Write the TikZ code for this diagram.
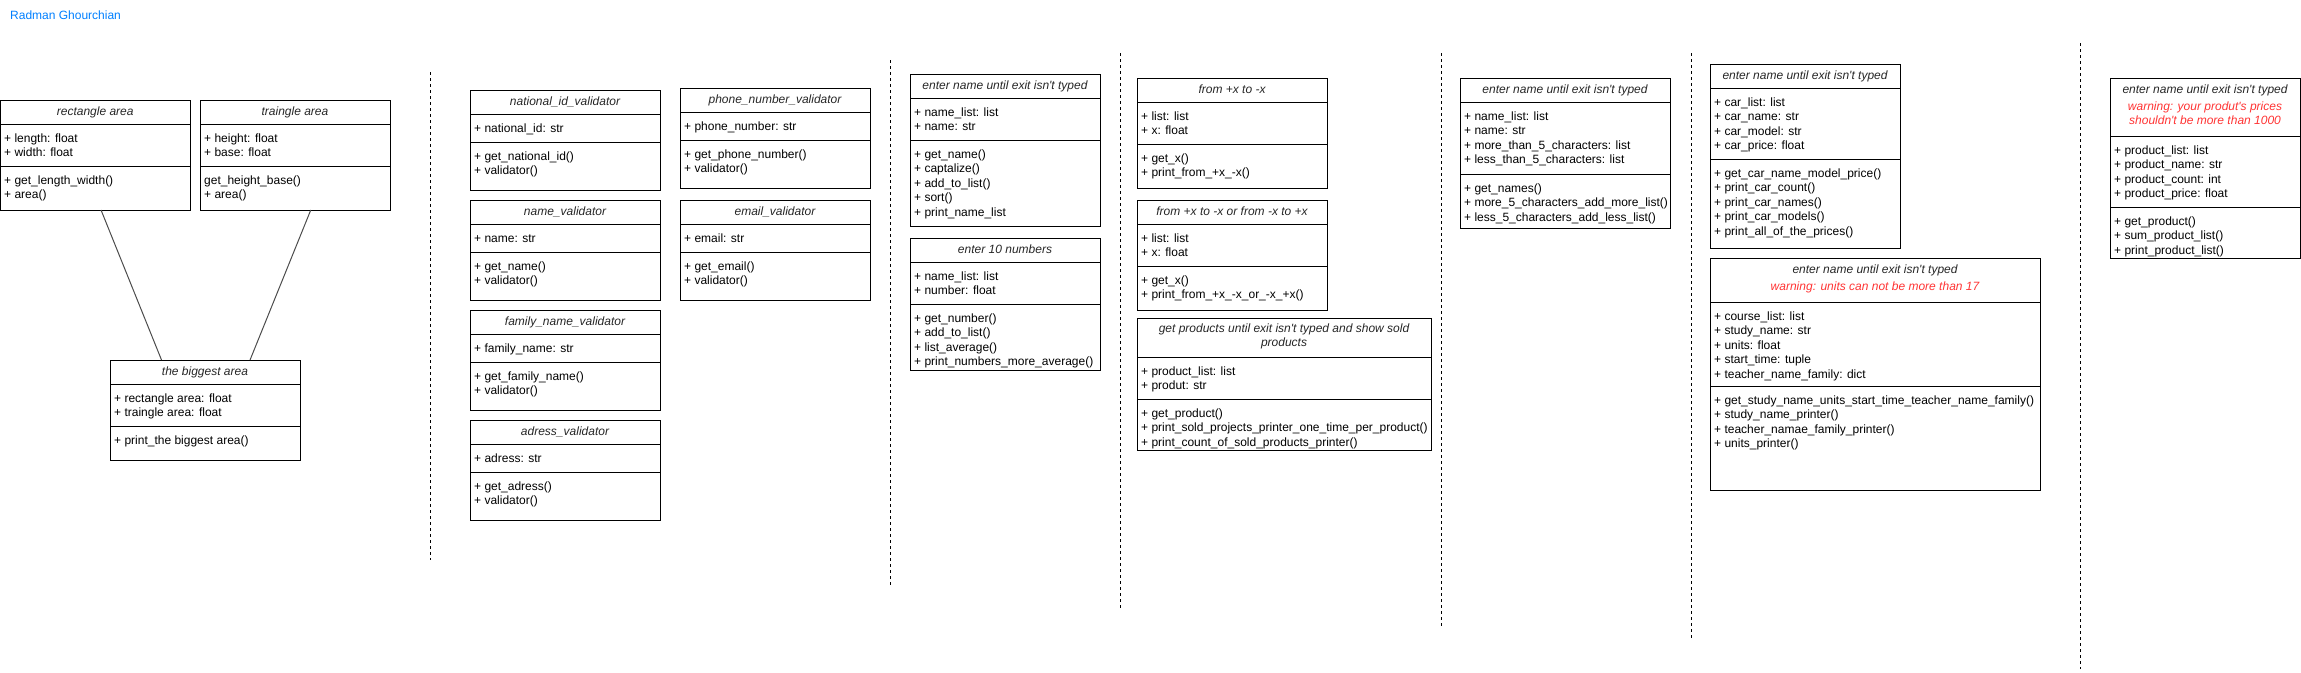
\documentclass[tikz,border=0pt]{standalone}
\usepackage{fontspec}
\setmainfont{Liberation Sans}
\definecolor{titleblue}{HTML}{007FFF}
\definecolor{warnred}{HTML}{FF3333}
\newcommand\ap{\textquotesingle}
\newcommand\ucls[7]{%
  \node[clsbox, minimum width={(#4)-(#2)}, minimum height={(#5)-(#3)}, anchor=north west] (#1) at (#2,#3) {};
  \draw[divline] (#2,#6) -- (#4,#6);
  \draw[divline] (#2,#7) -- (#4,#7);
}
\newcommand\uttl[5]{\node[ttl] (#1) at ({((#2)+(#3))/2},#4) {#5};}
\newcommand\uwarn[5]{\node[ttl,text=warnred] (#1) at ({((#2)+(#3))/2},#4) {#5};}
\newcommand\ufld[4]{\node[fld] (#1) at ({(#2)+4},{(#3)+8}) {\strut #4};}
\begin{document}
\begin{tikzpicture}[x=1pt,y=-1pt,
  clsbox/.style={draw=black, line width=1pt, inner sep=0pt, outer sep=0pt},
  divline/.style={line width=1pt},
  ttl/.style={font=\fontsize{12}{14.5}\selectfont\itshape, anchor=base, inner sep=0pt, text=black!85},
  fld/.style={font=\fontsize{12}{14.5}\selectfont, anchor=north west, align=left, inner sep=0pt},
  sepline/.style={line width=1pt, dash pattern=on 3pt off 3pt},
  link/.style={line width=1pt, draw=black!70}]
\useasboundingbox (0,0) rectangle (2301,672);

\node[font=\fontsize{12}{14.5}\selectfont, text=titleblue, anchor=base west, inner sep=0pt] (author) at (10,19.3) {Radman Ghourchian};

% column 1
\ucls{rect}{0.5}{100}{190}{210}{124}{166}
\uttl{rectt}{0.5}{190}{115}{rectangle area}
\ufld{recta}{0}{124}{+ length: float\\+ width: float}
\ufld{rectm}{0}{166}{+ get\_length\_width()\\+ area()}

\ucls{tri}{200}{100}{390}{210}{124}{166}
\uttl{trit}{200}{390}{115}{traingle area}
\ufld{tria}{200}{124}{+ height: float\\+ base: float}
\ufld{trim}{200}{166}{get\_height\_base()\\+ area()}

\ucls{big}{110}{360}{300}{460}{384}{426}
\uttl{bigt}{110}{300}{375}{the biggest area}
\ufld{biga}{110}{384}{+ rectangle area: float\\+ traingle area: float}
\ufld{bigm}{110}{426}{+ print\_the biggest area()}

\draw[link] (rect.-84.8) -- (big.131.99);
\draw[link] (tri.-74.74) -- (big.48.01);

% column 2
\ucls{nid}{470}{90}{660}{190}{114}{142}
\uttl{nidt}{470}{660}{105}{national\_id\_validator}
\ufld{nida}{470}{114}{+ national\_id: str}
\ufld{nidm}{470}{142}{+ get\_national\_id()\\+ validator()}

\ucls{namev}{470}{200}{660}{300}{224}{252}
\uttl{namevt}{470}{660}{215}{name\_validator}
\ufld{nameva}{470}{224}{+ name: str}
\ufld{namevm}{470}{252}{+ get\_name()\\+ validator()}

\ucls{famv}{470}{310}{660}{410}{334}{362}
\uttl{famvt}{470}{660}{325}{family\_name\_validator}
\ufld{famva}{470}{334}{+ family\_name: str}
\ufld{famvm}{470}{362}{+ get\_family\_name()\\+ validator()}

\ucls{adrv}{470}{420}{660}{520}{444}{472}
\uttl{adrvt}{470}{660}{435}{adress\_validator}
\ufld{adrva}{470}{444}{+ adress: str}
\ufld{adrvm}{470}{472}{+ get\_adress()\\+ validator()}

\ucls{phone}{680}{88}{870}{188}{112}{140}
\uttl{phonet}{680}{870}{103}{phone\_number\_validator}
\ufld{phonea}{680}{112}{+ phone\_number: str}
\ufld{phonem}{680}{140}{+ get\_phone\_number()\\+ validator()}

\ucls{email}{680}{200}{870}{300}{224}{252}
\uttl{emailt}{680}{870}{215}{email\_validator}
\ufld{emaila}{680}{224}{+ email: str}
\ufld{emailm}{680}{252}{+ get\_email()\\+ validator()}

% column 3
\ucls{names}{910}{74}{1100}{226}{98}{140}
\uttl{namest}{910}{1100}{89}{enter name until exit isn\ap t typed}
\ufld{namesa}{910}{98}{+ name\_list: list\\+ name: str}
\ufld{namesm}{910}{140}{+ get\_name()\\+ captalize()\\+ add\_to\_list()\\+ sort()\\+ print\_name\_list}

\ucls{nums}{910}{238}{1100}{370}{262}{304}
\uttl{numst}{910}{1100}{253}{enter 10 numbers}
\ufld{numsa}{910}{262}{+ name\_list: list\\+ number: float}
\ufld{numsm}{910}{304}{+ get\_number()\\+ add\_to\_list()\\+ list\_average()\\+ print\_numbers\_more\_average()}

% column 4
\ucls{fx}{1137}{78}{1327}{188}{102}{144}
\uttl{fxt}{1137}{1327}{93}{from +x to -x}
\ufld{fxa}{1137}{102}{+ list: list\\+ x: float}
\ufld{fxm}{1137}{144}{+ get\_x()\\+ print\_from\_+x\_-x()}

\ucls{fxx}{1137}{200}{1327}{310}{224}{266}
\uttl{fxxt}{1137}{1327}{215}{from +x to -x or from -x to +x}
\ufld{fxxa}{1137}{224}{+ list: list\\+ x: float}
\ufld{fxxm}{1137}{266}{+ get\_x()\\+ print\_from\_+x\_-x\_or\_-x\_+x()}

\ucls{prod}{1137}{318}{1431}{450}{357}{399}
\uttl{prodt}{1137}{1431}{332.7}{get products until exit isn\ap t typed and show sold}
\uttl{prodt2}{1137}{1431}{346.7}{products}
\ufld{proda}{1137}{357}{+ product\_list: list\\+ produt: str}
\ufld{prodm}{1137}{399}{+ get\_product()\\+ print\_sold\_projects\_printer\_one\_time\_per\_product()\\+ print\_count\_of\_sold\_products\_printer()}

% column 5
\ucls{five}{1460}{78}{1670}{228}{102}{174}
\uttl{fivet}{1460}{1670}{93}{enter name until exit isn\ap t typed}
\ufld{fivea}{1460}{102}{+ name\_list: list\\+ name: str\\+ more\_than\_5\_characters: list\\+ less\_than\_5\_characters: list}
\ufld{fivem}{1460}{174}{+ get\_names()\\+ more\_5\_characters\_add\_more\_list()\\+ less\_5\_characters\_add\_less\_list()}

% column 6
\ucls{car}{1710}{64}{1900}{248}{88}{159}
\uttl{cart}{1710}{1900}{79}{enter name until exit isn\ap t typed}
\ufld{cara}{1710}{88}{+ car\_list: list\\+ car\_name: str\\+ car\_model: str\\+ car\_price: float}
\ufld{carm}{1710}{159}{+ get\_car\_name\_model\_price()\\+ print\_car\_count()\\+ print\_car\_names()\\+ print\_car\_models()\\+ print\_all\_of\_the\_prices()}

\ucls{units}{1710}{258}{2040}{490}{302}{386}
\uttl{unitst}{1710}{2040}{273}{enter name until exit isn\ap t typed}
\uwarn{unitsw}{1710}{2040}{290.7}{warning: units can not be more than 17}
\ufld{unitsa}{1710}{302}{+ course\_list: list\\+ study\_name: str\\+ units: float\\+ start\_time: tuple\\+ teacher\_name\_family: dict}
\ufld{unitsm}{1710}{386}{+ get\_study\_name\_units\_start\_time\_teacher\_name\_family()\\+ study\_name\_printer()\\+ teacher\_namae\_family\_printer()\\+ units\_printer()}

% column 7
\ucls{shop}{2110}{78}{2300}{258}{136}{207}
\uttl{shopt}{2110}{2300}{93}{enter name until exit isn\ap t typed}
\uwarn{shopw}{2110}{2300}{110.7}{warning: your produt\ap s prices}
\uwarn{shopw2}{2110}{2300}{124.7}{shouldn\ap t be more than 1000}
\ufld{shopa}{2110}{136}{+ product\_list: list\\+ product\_name: str\\+ product\_count: int\\+ product\_price: float}
\ufld{shopm}{2110}{207}{+ get\_product()\\+ sum\_product\_list()\\+ print\_product\_list()}

% separators
\draw[sepline] (430,72) -- (430,560);
\draw[sepline] (890,60) -- (890,585);
\draw[sepline] (1120,53) -- (1120,608);
\draw[sepline] (1441,53) -- (1441,626);
\draw[sepline] (1691,53) -- (1691,638);
\draw[sepline] (2080,43) -- (2080,669);
\end{tikzpicture}
\end{document}
